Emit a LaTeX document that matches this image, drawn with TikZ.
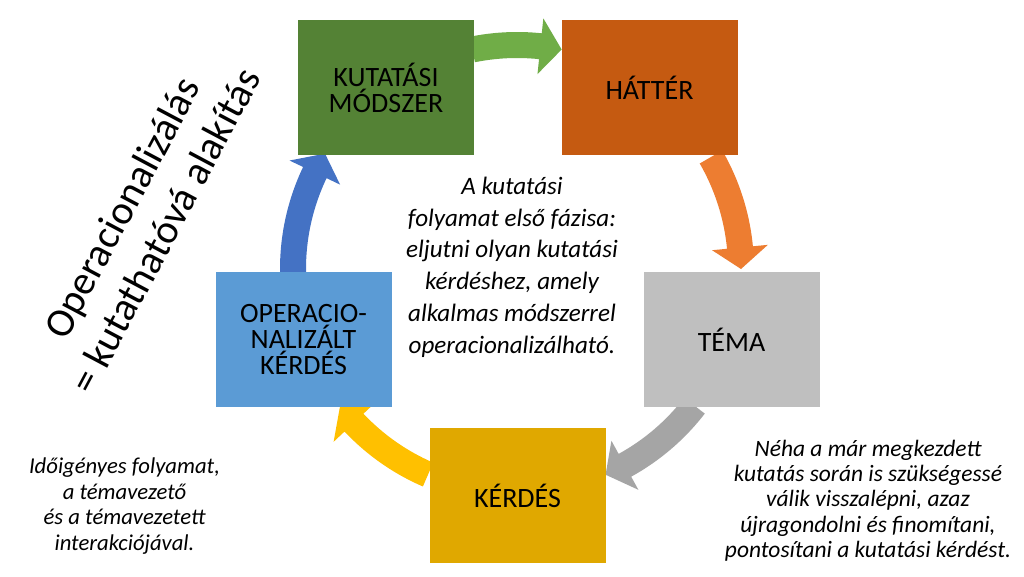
\documentclass[tikz,border=0pt]{standalone}
\usepackage{fontspec}
\setmainfont{Carlito}
\usetikzlibrary{calc}
\definecolor{arrgreen}{HTML}{70AD47}
\definecolor{arrorange}{HTML}{ED7D31}
\definecolor{arrgray}{HTML}{A5A5A5}
\definecolor{arrgold}{HTML}{FFC000}
\definecolor{arrblue}{HTML}{4472C4}
\definecolor{boxgreen}{HTML}{548235}
\definecolor{boxorange}{HTML}{C55A11}
\definecolor{boxgray}{HTML}{BFBFBF}
\definecolor{boxgold}{HTML}{E0A800}
\definecolor{boxblue}{HTML}{5B9BD5}
% block cycle arrow: colour, tail angle, tip angle (clockwise)
\newcommand{\blockcyc}[3]{%
  \pgfmathsetmacro{\hb}{#3+5.5}%
  \fill[#1] (#2:237) arc[start angle=#2, end angle=\hb, radius=237]
    -- (\hb:252) -- (#3:224) -- (\hb:196) -- (\hb:211)
    arc[start angle=\hb, end angle=#2, radius=211] -- cycle;}
\begin{document}
\begin{tikzpicture}[x=0.75pt,y=0.75pt,
  box/.style={draw=none, minimum width=132pt, minimum height=101.25pt,
    inner sep=0pt, align=center, text=black,
    font=\fontsize{21}{19.5}\selectfont},
  note/.style={align=center, text=black,
    font=\itshape\fontsize{17}{19.2}\selectfont}]
\useasboundingbox (0,0) rectangle (1024,576);
\fill[white] (0,0) rectangle (1024,576);
% arrows of the cycle
\begin{scope}[shift={(517,307)}]
  \blockcyc{arrgreen}{101.5}{78.5}
  \blockcyc{arrorange}{30}{0}
  \blockcyc{arrgray}{-37.6}{-66.7}
  \blockcyc{arrgold}{246.6}{217.8}
  \blockcyc{arrblue}{181}{149}
\end{scope}
% boxes
\node[box, fill=boxgreen] (method) at (386,488.5) {KUTATÁSI\\MÓDSZER};
\node[box, fill=boxorange] (background) at (649.5,488.5) {HÁTTÉR};
\node[box, fill=boxgray] (topic) at (731.5,236.5) {TÉMA};
\node[box, fill=boxgold] (question) at (517.5,80.5) {KÉRDÉS};
\node[box, fill=boxblue] (opq) at (303.5,236.5) {OPERACIO-\\NALIZÁLT\\KÉRDÉS};
% texts
\node[align=center, text=black, font=\itshape\fontsize{18.8}{23.8}\selectfont] (phase) at (512,309)
  {A kutatási\\folyamat első fázisa:\\eljutni olyan kutatási\\kérdéshez, amely\\alkalmas módszerrel\\operacionalizálható.};
\node[rotate=62, align=center, text=black, font=\fontsize{30.5}{36.75}\selectfont] (oper) at (143,357)
  {Operacionalizálás\\= kutathatóvá alakítás};
\node[note] (time) at (124.5,70) {Időigényes folyamat,\\a témavezető\\és a témavezetett\\interakciójával.};
\node[note, font=\itshape\fontsize{17.6}{19}\selectfont] (back) at (868,75.5) {Néha a már megkezdett\\kutatás során is szükségessé\\válik visszalépni, azaz\\újragondolni és finomítani,\\pontosítani a kutatási kérdést.};
\end{tikzpicture}
\end{document}
